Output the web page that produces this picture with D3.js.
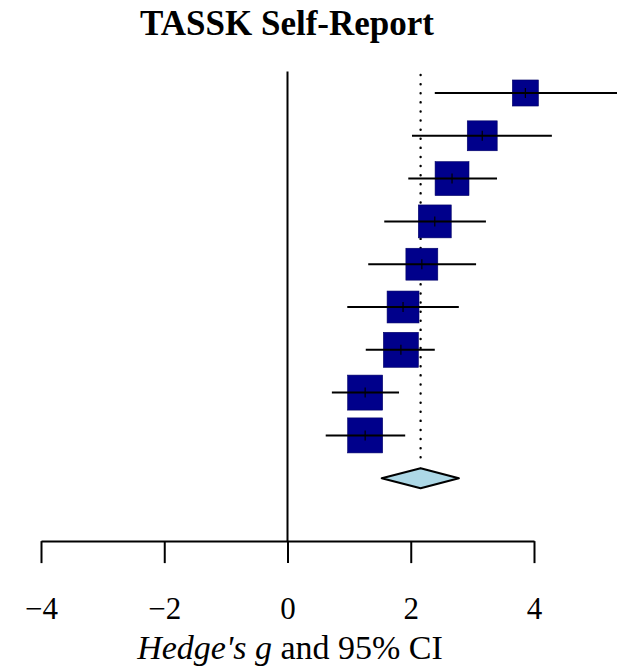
<!DOCTYPE html>
<html>
<head>
<meta charset="utf-8">
<script src="https://cdn.jsdelivr.net/npm/d3@7"></script>
<style>
  body { margin: 0; background: #fff; }
  svg { display: block; font-family: "Liberation Serif", "Times New Roman", serif; }
</style>
</head>
<body>
<div id="chart"></div>
<script>
// study effect sizes (Hedge's g), top to bottom
var estimates = [3.86, 3.16, 2.67, 2.39, 2.18, 1.875, 1.84, 1.26, 1.26];
var lowerCI   = [2.39, 2.02, 1.96, 1.57, 1.31, 0.97, 1.27, 0.72, 0.62];
var upperCI   = [5.45, 4.29, 3.40, 3.22, 3.06, 2.78, 2.39, 1.81, 1.91];
var weights   = [7.2, 9.5, 12.2, 11.5, 10.8, 10.8, 13.0, 13.0, 13.0];
// pooled estimate
var summaryEst = 2.16, summaryLo = 1.53, summaryHi = 2.78;
var xTicks = [-4, -2, 0, 2, 4];
var title = "TASSK Self-Report";

var width = 617, height = 666;

var svg = d3.select("#chart").append("svg")
  .attr("width", width)
  .attr("height", height);

var x = d3.scaleLinear().domain([-4, 4]).range([41, 534]);
var y = d3.scaleLinear().domain([-0.5, 10.5]).range([71.6, 542.4]);
var side = d3.scaleSqrt().domain([0, 13]).range([0, 35]);

var rows = estimates.map(function (d, i) {
  return { est: d, lo: lowerCI[i], hi: upperCI[i], w: weights[i], row: i };
});
var sumRow = rows.length;
var axisY = y(10.47);

// title
svg.append("text")
  .attr("x", 287)
  .attr("y", 35)
  .attr("text-anchor", "middle")
  .style("font-size", "35px")
  .style("font-weight", "bold")
  .text(title);

// zero line
svg.append("line")
  .attr("x1", x(0)).attr("x2", x(0))
  .attr("y1", y(-0.5)).attr("y2", axisY)
  .attr("stroke", "#000")
  .attr("stroke-width", 2);

// dotted line at the pooled estimate
svg.append("line")
  .attr("x1", x(summaryEst)).attr("x2", x(summaryEst))
  .attr("y1", y(-0.42)).attr("y2", y(8.62))
  .attr("stroke", "#000")
  .attr("stroke-width", 2.4)
  .attr("stroke-linecap", "round")
  .attr("stroke-dasharray", "0.1,9");

// squares
svg.selectAll("rect.study")
  .data(rows)
  .enter().append("rect")
  .attr("class", "study")
  .attr("x", function (d) { return x(d.est) - side(d.w) / 2; })
  .attr("y", function (d) { return y(d.row) - side(d.w) / 2; })
  .attr("width", function (d) { return side(d.w); })
  .attr("height", function (d) { return side(d.w); })
  .attr("fill", "#00008B")
  .attr("stroke", "#000066")
  .attr("stroke-width", 0.6);

// confidence intervals
svg.selectAll("line.ci")
  .data(rows)
  .enter().append("line")
  .attr("class", "ci")
  .attr("x1", function (d) { return x(d.lo); })
  .attr("x2", function (d) { return x(d.hi); })
  .attr("y1", function (d) { return y(d.row); })
  .attr("y2", function (d) { return y(d.row); })
  .attr("stroke", "#000")
  .attr("stroke-width", 2);

// little tick at each point estimate
svg.selectAll("line.mark")
  .data(rows)
  .enter().append("line")
  .attr("class", "mark")
  .attr("x1", function (d) { return x(d.est); })
  .attr("x2", function (d) { return x(d.est); })
  .attr("y1", function (d) { return y(d.row) - 5; })
  .attr("y2", function (d) { return y(d.row) + 5; })
  .attr("stroke", "#000")
  .attr("stroke-width", 1.2);

// summary diamond
var sy = y(sumRow);
svg.append("path")
  .attr("d", d3.line()([
    [x(summaryLo), sy], [x(summaryEst), sy - 10],
    [x(summaryHi), sy], [x(summaryEst), sy + 10]
  ]) + "Z")
  .attr("fill", "#ADD8E6")
  .attr("stroke", "#000")
  .attr("stroke-width", 2.2)
  .attr("stroke-linejoin", "round");

// x axis
var axis = svg.append("g")
  .attr("transform", "translate(0," + axisY + ")")
  .call(d3.axisBottom(x).tickValues(xTicks).tickSizeInner(22).tickSizeOuter(0));

axis.select(".domain").attr("stroke", "#000").attr("stroke-width", 2);
axis.selectAll(".tick line").attr("stroke", "#000").attr("stroke-width", 2);
axis.selectAll(".tick text")
  .attr("y", 619 - axisY)
  .attr("dy", null)
  .attr("fill", "#000")
  .style("font-family", "'Liberation Serif', 'Times New Roman', serif")
  .style("font-size", "31px");

// axis title
var lab = svg.append("text")
  .attr("x", 290)
  .attr("y", 659)
  .attr("text-anchor", "middle")
  .style("font-size", "34px");
lab.append("tspan").style("font-style", "italic").text("Hedge's g");
lab.append("tspan").text(" and 95% CI");
</script>
</body>
</html>
